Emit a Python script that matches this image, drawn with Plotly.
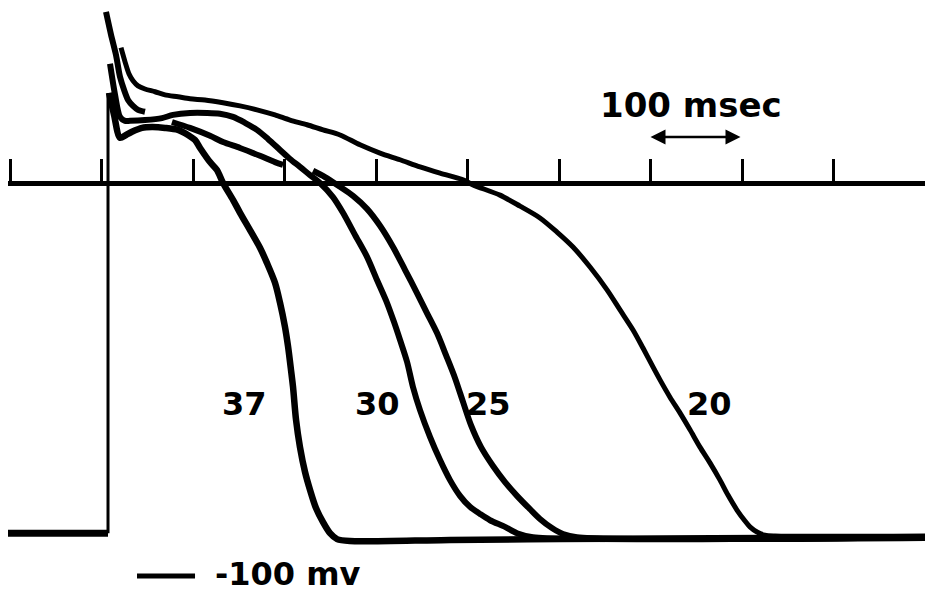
import plotly.graph_objects as go

# Time in msec (ticks every 100 msec), membrane potential in mV
tick_ms = [0, 100, 200, 300, 400, 500, 600, 700, 800, 900, 1000]

rest_t = [-2.2, 107.1]
rest_v = [-89.1, -89.1]

upstroke_t = [107.1, 107.1]
upstroke_v = [-89.1, 22.9]

t37 = [108.2, 113.7, 120.2, 126.8, 133.3, 144.3, 155.2, 169.4, 183.6, 194.5, 202.2, 207.7, 218.6,
       226.2, 232.8, 243.7, 251.4, 262.3, 273.2, 280.9, 289.6, 295.1, 300.5, 303.8, 307.1, 309.3,
       312.6, 316.9, 322.4, 327.9, 334.4, 342.1, 349.7, 357.4, 371.6, 480.9, 601.1, 1000]
v37 = [22.9, 17.3, 11.5, 12.2, 13.0, 14.0, 14.2, 14.0, 13.5, 12.2, 10.9, 8.9, 5.3,
       3.3, 0.0, -4.3, -7.6, -12.0, -16.5, -20.4, -25.4, -30.5, -36.6, -41.5, -47.6, -51.9,
       -60.3, -67.2, -73.5, -78.1, -82.7, -86.3, -89.1, -90.6, -91.1, -90.8, -90.6, -90.1]

t30 = [109.3, 114.8, 120.2, 125.7, 131.1, 147.5, 166.1, 178.1, 196.7, 215.3, 229.5, 243.7, 256.8,
       269.9, 281.9, 295.1, 306.0, 316.9, 327.9, 338.8, 353.0, 363.9, 377.0, 390.2, 401.1, 412.0,
       419.7, 426.2, 433.9, 440.4, 448.1, 459.0, 470.0, 480.9, 491.8, 502.7, 513.7, 524.6, 541.0,
       554.1, 571.6, 1000]
v30 = [30.3, 22.4, 16.8, 15.8, 15.8, 16.0, 16.5, 17.3, 17.8, 17.8, 17.6, 16.8, 15.3,
       13.5, 11.2, 8.4, 6.1, 4.1, 2.0, 0.0, -3.6, -7.6, -13.2, -18.8, -24.7, -30.5,
       -35.4, -39.9, -45.5, -51.9, -57.8, -64.6, -70.5, -75.6, -79.6, -82.4, -84.2, -85.8, -87.5,
       -89.1, -90.1, -90.1]

# trace 25 is broken into three visible pieces in the record
t25 = [104.9, 110.4, 115.8, 120.2, 124.6, 129.0, 134.4, 139.9, 147.5, None,
       177.0, 196.7, 218.6, 232.8, 251.4, 273.2, 289.6, 298.4, None,
       331.1, 344.3, 360.7, 374.9, 390.2, 404.4, 418.6, 431.7, 444.8, 455.7, 466.7, 476.5,
       486.3, 495.1, 503.8, 514.8, 527.9, 541.0, 554.1, 568.3, 579.2, 592.3, 604.4, 619.7, 1000]
v25 = [43.5, 37.7, 32.6, 27.0, 23.7, 21.1, 19.6, 18.6, 18.1, None,
       15.5, 14.0, 12.0, 10.4, 8.9, 6.9, 5.3, 4.6, None,
       3.1, 1.5, -1.0, -3.3, -6.6, -10.9, -16.3, -22.1, -28.0, -33.1, -38.2, -43.8,
       -49.6, -55.7, -61.6, -67.2, -72.0, -76.1, -79.6, -83.0, -85.5, -87.8, -89.3, -90.1, -90.3]

t20 = [121.3, 125.7, 130.1, 134.4, 139.9, 147.5, 158.5, 169.4, 183.6, 196.7, 213.1, 232.8, 251.4,
       269.9, 289.6, 306.0, 324.6, 342.1, 360.7, 382.5, 404.4, 426.2, 448.1, 470.0, 495.1, 506.0,
       535.5, 557.4, 579.2, 597.8, 615.3, 633.9, 652.5, 666.7, 680.9, 691.8, 702.7, 710.4, 721.3,
       732.2, 743.2, 754.1, 765.0, 776.0, 784.7, 794.5, 803.3, 808.7, 816.4, 825.1, 836.1, 1000]
v20 = [34.4, 30.8, 27.7, 26.0, 24.7, 23.9, 23.2, 22.4, 21.9, 21.4, 21.1, 20.4, 19.6,
       18.6, 17.3, 16.0, 14.8, 13.5, 12.2, 9.7, 7.6, 5.9, 4.1, 2.5, 0.8, -0.5,
       -3.1, -5.9, -8.9, -12.5, -16.3, -21.4, -27.2, -32.3, -37.4, -42.0, -46.8, -50.1, -54.5,
       -58.5, -62.8, -67.2, -71.2, -75.6, -79.4, -83.2, -86.0, -87.5, -88.8, -89.6, -89.8, -89.8]

temp_labels = ["37", "30", "25", "20"]
label_t = [256.8, 401.1, 522.4, 765.0]
label_v = [-56.2, -56.2, -56.2, -56.2]

# The page body adds an 8 px offset; ranges/domain below account for it
X_RANGE = [-2.2, 1000.0]
Y_RANGE = [-106.6, 44.5]

TEXT_FONT = dict(family="DejaVu Sans", color="black", weight="bold")

fig = go.Figure()

def add_line(t, v, w):
    fig.add_trace(go.Scatter(x=t, y=v, mode="lines", connectgaps=False,
                             line=dict(color="black", width=w, shape="spline", smoothing=0.8),
                             hoverinfo="skip", showlegend=False, cliponaxis=False))

add_line(rest_t, rest_v, 7)
fig.add_trace(go.Scatter(x=upstroke_t, y=upstroke_v, mode="lines",
                         line=dict(color="black", width=3), hoverinfo="skip",
                         showlegend=False, cliponaxis=False))
add_line(t37, v37, 6.5)
add_line(t30, v30, 6)
add_line(t25, v25, 6)
add_line(t20, v20, 5)

for txt, tx, vy in zip(temp_labels, label_t, label_v):
    fig.add_annotation(x=tx, y=vy, text=txt, showarrow=False,
                       font=dict(TEXT_FONT, size=32))

# time calibration: 100 msec
fig.add_annotation(x=tick_ms[7], y=11.7, ax=tick_ms[8], ay=11.7, axref="x", ayref="y",
                   xref="x", yref="y", text="", showarrow=True, arrowside="end+start",
                   arrowhead=2, arrowsize=1.2, arrowwidth=2.5, arrowcolor="black")
fig.add_annotation(x=744, y=19.8, text="100 msec", showarrow=False,
                   font=dict(TEXT_FONT, size=34))

# voltage calibration: -100 mV
fig.add_shape(type="line", x0=138.8, x1=202.2, y0=-100, y1=-100, xref="x", yref="y",
              line=dict(color="black", width=5))
fig.add_annotation(x=221.9, y=-99.4, text="-100 mv", showarrow=False, xanchor="left",
                   font=dict(TEXT_FONT, size=32))

zero_pos = (0 - Y_RANGE[0]) / (Y_RANGE[1] - Y_RANGE[0])

fig.update_layout(
    width=933, height=594,
    margin=dict(l=0, r=0, t=0, b=0),
    paper_bgcolor="white", plot_bgcolor="white",
    xaxis=dict(domain=[0, 917 / 933], range=X_RANGE, anchor="free", position=zero_pos,
               showgrid=False, zeroline=False, showline=True, linewidth=5, linecolor="black",
               ticks="inside", ticklen=22, tickwidth=3, tickcolor="black",
               tickvals=tick_ms, showticklabels=False, fixedrange=True),
    yaxis=dict(domain=[0, 1], range=Y_RANGE, visible=False, showgrid=False,
               zeroline=False, fixedrange=True),
    showlegend=False,
)

fig.write_html("out.html")
